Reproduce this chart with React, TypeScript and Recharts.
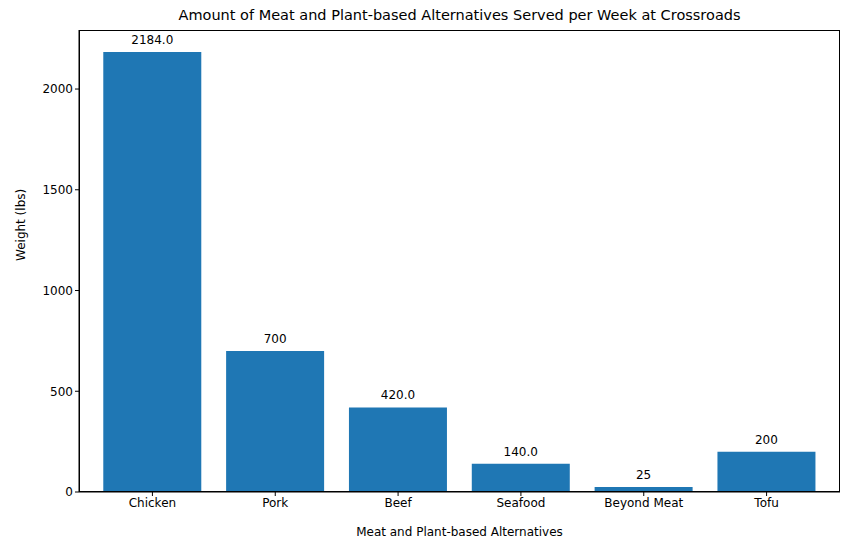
import { BarChart, Bar, XAxis, YAxis, LabelList } from 'recharts'

const categories = ['Chicken', 'Pork', 'Beef', 'Seafood', 'Beyond Meat', 'Tofu']
const weights = [2184, 700, 420, 140, 25, 200]
const valueLabels = ['2184.0', '700', '420.0', '140.0', '25', '200']
const yTicks = [0, 500, 1000, 1500, 2000]

const data = categories.map((name, i) => ({ name, value: weights[i], label: valueLabels[i] }))

const FONT = 'DejaVu Sans, sans-serif'

export default function App() {
  return (
    <div style={{ position: 'absolute', left: 0, top: 0, width: 859, height: 545, background: '#fff', fontFamily: FONT }}>
      <div style={{ position: 'absolute', top: 7, left: 79, width: 761, textAlign: 'center', fontSize: 14.5, color: '#000' }}>
        Amount of Meat and Plant-based Alternatives Served per Week at Crossroads
      </div>
      <BarChart width={859} height={545} data={data} margin={{ top: 30, right: 19, left: 19, bottom: 23 }} barCategoryGap="10%">
        <XAxis
          dataKey="name"
          padding={{ left: 12, right: 12 }}
          height={30}
          stroke="#000"
          tickSize={4}
          tick={{ fontSize: 12, fill: '#000', fontFamily: FONT }}
          label={{ value: 'Meat and Plant-based Alternatives', position: 'insideBottom', offset: -14, fontSize: 12, fill: '#000', fontFamily: FONT }}
        />
        <YAxis
          width={60}
          domain={[0, 2293]}
          ticks={yTicks}
          stroke="#000"
          tickSize={4}
          tick={{ fontSize: 12, fill: '#000', fontFamily: FONT }}
          label={{ value: 'Weight (lbs)', angle: -90, position: 'insideLeft', offset: 2, fontSize: 12, fill: '#000', fontFamily: FONT }}
        />
        <Bar dataKey="value" fill="#1f77b4" isAnimationActive={false}>
          <LabelList dataKey="label" position="top" offset={8} style={{ fontSize: 12, fill: '#000', fontFamily: FONT }} />
        </Bar>
      </BarChart>
      <div style={{ position: 'absolute', left: 79, top: 30, width: 761, height: 462, border: '1px solid #000', boxSizing: 'border-box', pointerEvents: 'none' }} />
    </div>
  )
}
